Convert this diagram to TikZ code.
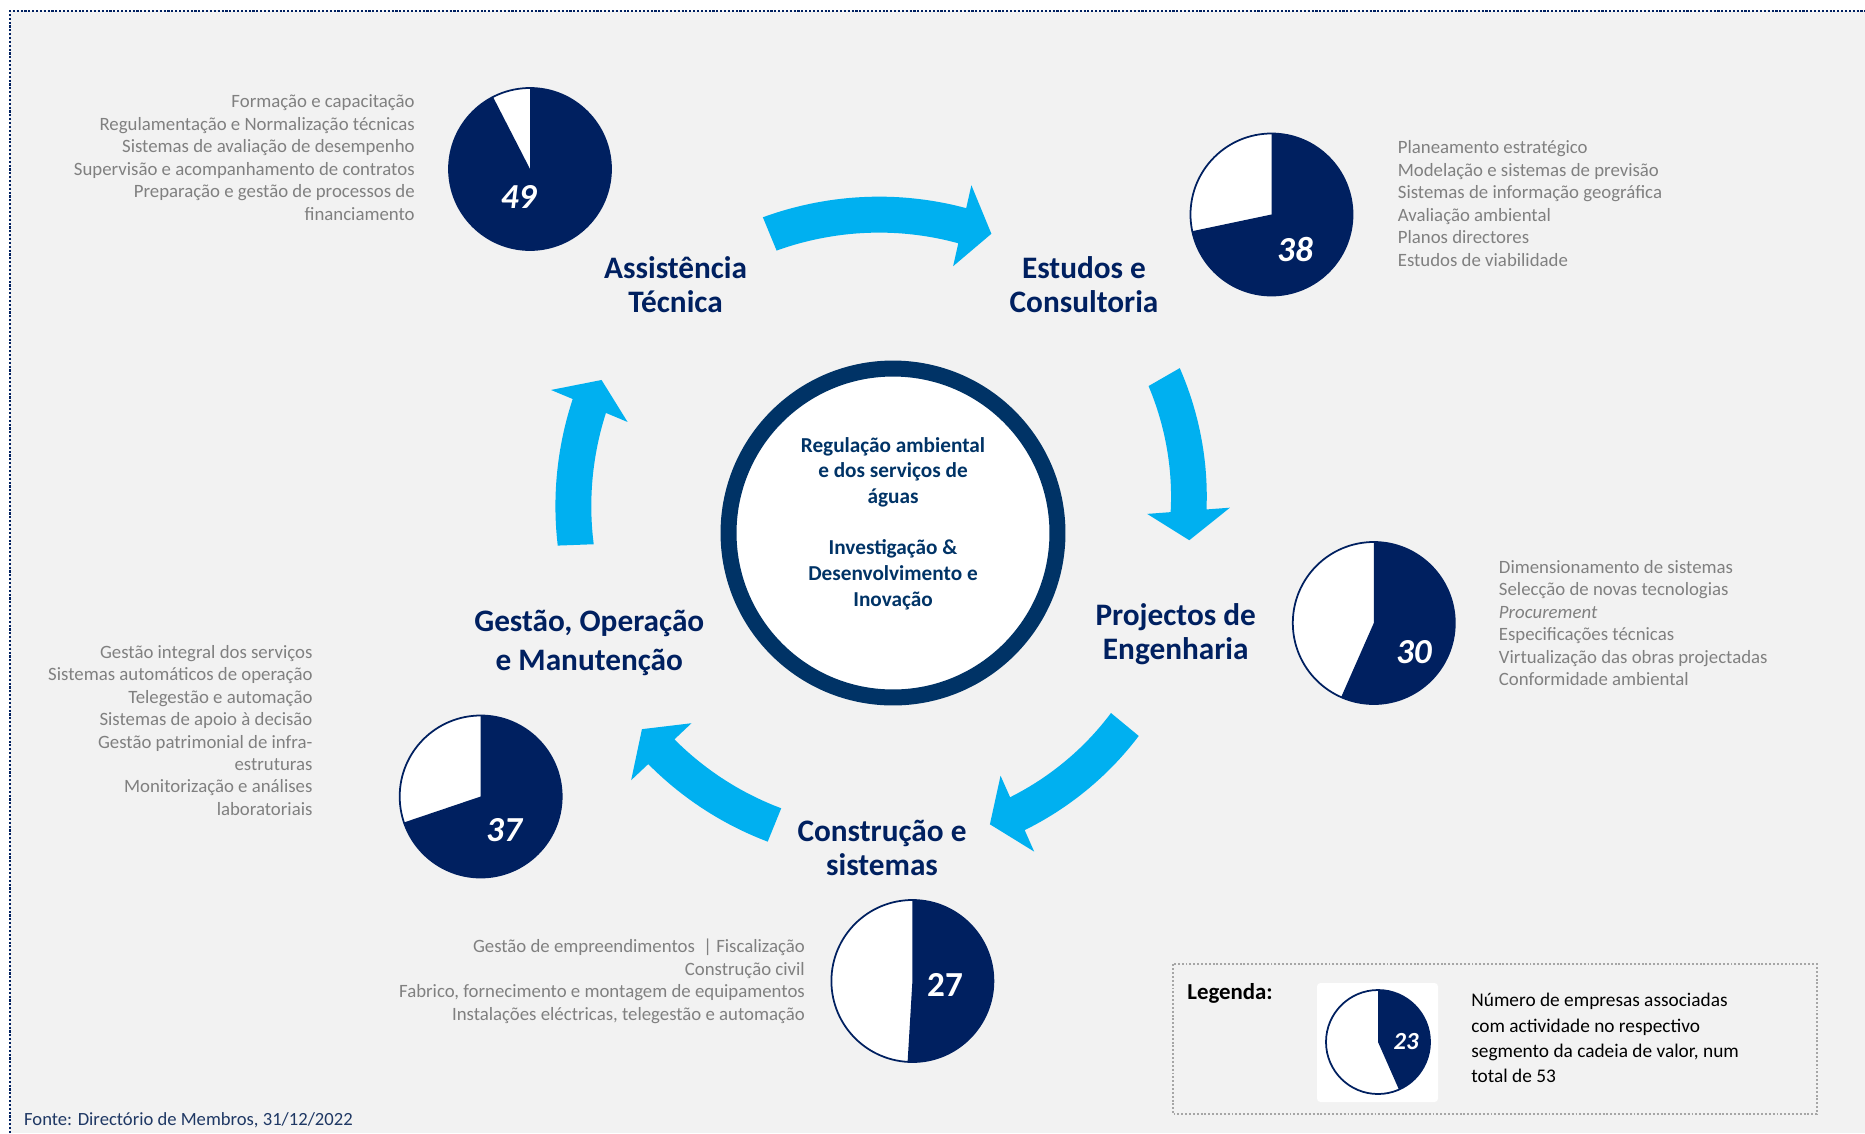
\documentclass[tikz,border=0pt]{standalone}
\usepackage{fontspec}
\setmainfont{Carlito}

\definecolor{pienavy}{RGB}{0,32,96}
\definecolor{ringblue}{RGB}{0,51,102}
\definecolor{arrowblue}{RGB}{0,176,240}
\definecolor{listgray}{RGB}{128,128,128}
\definecolor{bggray}{RGB}{242,242,242}
\definecolor{framenavy}{RGB}{31,56,100}
\definecolor{legendgray}{RGB}{166,166,166}

% curved block arrow round the hub: tail angle, base angle, tip angle, tail radius, head radius
\newcommand{\cyclearrow}[5]{%
\fill[arrowblue] plot[domain=#1:#2, samples=40]
  ({893+(#4+18+(#5-#4)*(\x-#1)/(#2-#1))*cos(\x)}, {533+(#4+18+(#5-#4)*(\x-#1)/(#2-#1))*sin(\x)})
  -- ({893+(#5+41.5)*cos(#2)}, {533+(#5+41.5)*sin(#2)})
  -- ({893+#5*cos(#3)}, {533+#5*sin(#3)})
  -- ({893+(#5-41.5)*cos(#2)}, {533+(#5-41.5)*sin(#2)})
  -- plot[domain=#2:#1, samples=40]
  ({893+(#4-18+(#5-#4)*(\x-#1)/(#2-#1))*cos(\x)}, {533+(#4-18+(#5-#4)*(\x-#1)/(#2-#1))*sin(\x)})
  -- cycle;}

\begin{document}
\begin{tikzpicture}[x=0.02cm, y=-0.02cm,
  listtext/.style={font=\fontsize{10.7}{12.8}\selectfont, text=listgray, inner sep=0pt},
  segtitle/.style={font=\bfseries\fontsize{17.8}{19.6}\selectfont, text=pienavy, align=center, inner sep=0pt},
  pienum/.style={font=\bfseries\fontsize{20}{24}\selectfont, text=white, inner sep=0pt}]
% Background and dotted frame
\useasboundingbox (0,0) rectangle (1865,1133);
\fill[white] (0,0) rectangle (1865,1133);
\fill[bggray] (10,11) rectangle (1865,1133);
\draw[pienavy, line width=1.6pt, dash pattern=on 1.2pt off 1.0pt] (10,1133) -- (10,11) -- (1865,11);

% Centre circle and its text
\node[circle, draw=ringblue, line width=0.32cm, fill=white, minimum size=6.58cm, inner sep=0pt] (hub) at (893,533) {};
\node[font=\bfseries\fontsize{12.1}{14.6}\selectfont, text=ringblue, align=center, inner sep=0pt] (hubtext) at (893,523.5)
  {Regulação ambiental\\e dos serviços de\\águas\\[14.6pt]Investigação \&\\Desenvolvimento e\\Inovação};

% Curved arrows of the cycle
\cyclearrow{247.6}{282.7}{288.2}{323.5}{315}
\cyclearrow{330.1}{355.7}{361.4}{312.8}{296.4}
\cyclearrow{39.55}{66.1}{71.6}{300.7}{307}
\cyclearrow{112.1}{136.65}{142}{315.1}{318.6}
\cyclearrow{177.85}{202.7}{207.7}{317.5}{329.2}

% Segment titles
\node[segtitle] (assist) at (675.6,284.5) {Assistência\\Técnica};
\node[segtitle] (estudos) at (1084,284.5) {Estudos e\\Consultoria};
\node[segtitle] (projectos) at (1175.7,634) {Projectos de\\Engenharia};
\node[segtitle] (construcao) at (882,848) {Construção e\\sistemas};
\node[segtitle, font=\bfseries\fontsize{17.8}{22.1}\selectfont] (gestao) at (589.3,643) {Gestão, Operação\\e Manutenção};

% Pies: number of member companies out of 53
\foreach \px/\py/\val/\dx/\dy/\fs in {530/169/49/-11.4/28.4/\itshape, 1271.5/214.5/38/23.5/34.5/\itshape,
    1373.8/623/30/40/29/\itshape, 480.7/796.5/37/23.3/33.5/\itshape, 912.4/981/27/32.6/4/\upshape}{
  \fill[white] (\px,\py) circle[radius=81];
  \fill[pienavy] (\px,\py) -- ++(270:81) arc[start angle=270, delta angle=\val/53*360, radius=81] -- cycle;
  \draw[pienavy, line width=1pt] (\px,\py) circle[radius=81];
  \node[pienum] (pie\val) at (\px+\dx,\py+\dy) {\fs\val};
}

% Activity lists
\node[listtext, anchor=east, align=right] (listassist) at (415,157.6)
  {Formação e capacitação\\Regulamentação e Normalização técnicas\\Sistemas de avaliação de desempenho\\Supervisão e acompanhamento de contratos\\Preparação e gestão de processos de\\financiamento};
\node[listtext, anchor=west, align=left] (listestudos) at (1397.5,203.4)
  {Planeamento estratégico\\Modelação e sistemas de previsão\\Sistemas de informação geográfica\\Avaliação ambiental\\Planos directores\\Estudos de viabilidade};
\node[listtext, anchor=west, align=left] (listprojectos) at (1498.6,623.2)
  {Dimensionamento de sistemas\\Selecção de novas tecnologias\\\textit{Procurement}\\Especificações técnicas\\Virtualização das obras projectadas\\Conformidade ambiental};
\node[listtext, anchor=east, align=right] (listgestao) at (312.8,730.3)
  {Gestão integral dos serviços\\Sistemas automáticos de operação\\Telegestão e automação\\Sistemas de apoio à decisão\\Gestão patrimonial de infra-\\estruturas\\Monitorização e análises\\laboratoriais};
\node[listtext, anchor=east, align=right] (listconstrucao) at (805.2,981.3)
  {Gestão de empreendimentos~~|~Fiscalização\\Construção civil\\Fabrico, fornecimento e montagem de equipamentos\\Instalações eléctricas, telegestão e automação};

% Legend
\draw[legendgray, line width=1.3pt, dash pattern=on 1.1pt off 1.1pt] (1172.8,964.3) rectangle (1816.7,1114.3);
\fill[white, rounded corners=2pt] (1317,983) rectangle (1438,1102);
\fill[white] (1378,1042) circle[radius=52];
\fill[pienavy] (1378,1042) -- ++(270:52) arc[start angle=270, delta angle=23/53*360, radius=52] -- cycle;
\draw[pienavy, line width=1pt] (1378,1042) circle[radius=52];
\node[text=white, font=\bfseries\itshape\fontsize{14}{16}\selectfont, inner sep=0pt] (pie23) at (1406,1042) {23};
\node[font=\bfseries\fontsize{13}{15}\selectfont, anchor=west, inner sep=0pt] (legendtitle) at (1187,993) {Legenda:};
\node[font=\fontsize{11}{14.4}\selectfont, anchor=west, align=left, inner sep=0pt] (legendtext) at (1471,1038.2)
  {Número de empresas associadas\\com actividade no respectivo\\segmento da cadeia de valor, num\\total de 53};

% Source
\node[font=\fontsize{10.6}{12.8}\selectfont, text=framenavy, anchor=west, inner sep=0pt] (fonte) at (23.8,1120.4)
  {Fonte: Directório de Membros, 31/12/2022};
\end{tikzpicture}
\end{document}
